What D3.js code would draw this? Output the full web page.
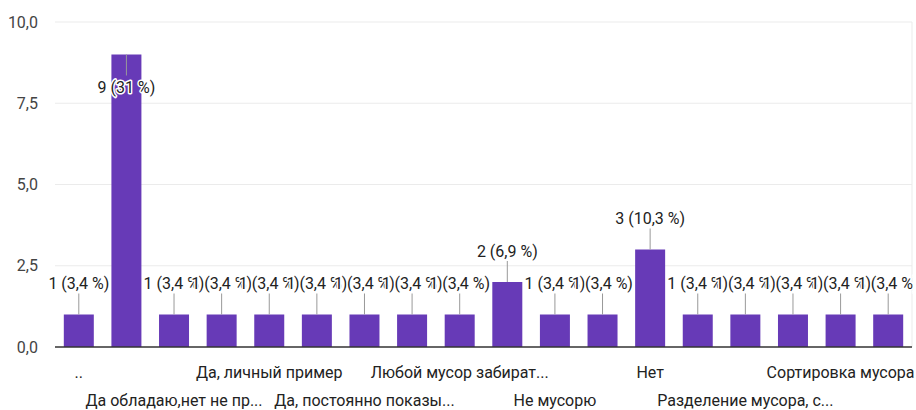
<!DOCTYPE html>
<html>
<head>
<meta charset="utf-8">
<script src="https://cdn.jsdelivr.net/npm/d3@7.9.0/dist/d3.min.js"></script>
<style>
  body { margin: 0; background: #fff; }
  svg { display: block; font-family: Roboto, "Noto Sans", sans-serif; }
</style>
</head>
<body>
<svg id="chart" width="916" height="410"></svg>
<script>
// answers (only every other one gets a visible axis label, like in the original)
const categories = [
  "..",
  "Да обладаю,нет не пр...",
  "Да обладаю,нет не пр...",
  "Да, личный пример",
  "Да, личный пример",
  "Да, постоянно показы...",
  "Да, постоянно показы...",
  "Любой мусор забират...",
  "Любой мусор забират...",
  "Не мусорю",
  "Не мусорю",
  "Нет",
  "Нет",
  "Разделение мусора, с...",
  "Разделение мусора, с...",
  "Сортировка мусора",
  "Сортировка мусора",
  "Сортировка мусора"
];
// labels that are actually shown under the axis (index -> text)
const shownLabels = [
  [0, ".."],
  [2, "Да обладаю,нет не пр..."],
  [4, "Да, личный пример"],
  [6, "Да, постоянно показы..."],
  [8, "Любой мусор забират..."],
  [10, "Не мусорю"],
  [12, "Нет"],
  [14, "Разделение мусора, с..."],
  [16, "Сортировка мусора"]
];
const counts = [1, 9, 1, 1, 1, 1, 1, 1, 1, 2, 1, 1, 3, 1, 1, 1, 1, 1];
const yTicks = [0, 2.5, 5, 7.5, 10];

const svg = d3.select("#chart");
const plotL = 55, plotR = 912, plotT = 22, plotB = 347;

const x = d3.scaleBand()
  .domain(d3.range(counts.length))
  .range([plotL, plotR])
  .paddingInner(0.37)
  .paddingOuter(0.185);

const y = d3.scaleLinear().domain([0, 10]).range([plotB, plotT]);

const total = d3.sum(counts);
const fmtNum = v => d3.format(".1f")(v).replace(/\.0$/, "").replace(".", ",");
const fmtTick = v => d3.format(".1f")(v).replace(".", ",");

// gridlines
svg.append("g")
  .selectAll("line")
  .data(yTicks.filter(d => d > 0))
  .join("line")
  .attr("x1", plotL).attr("x2", plotR)
  .attr("y1", d => y(d)).attr("y2", d => y(d))
  .attr("stroke", "#ebebeb");

// faint frame edge on the right
svg.append("line").attr("x1", plotR).attr("x2", plotR)
  .attr("y1", plotT).attr("y2", plotB).attr("stroke", "#ebebeb");

// y tick labels
svg.append("g")
  .selectAll("text")
  .data(yTicks)
  .join("text")
  .attr("x", 38)
  .attr("y", d => y(d))
  .attr("dy", "0.35em")
  .attr("text-anchor", "end")
  .attr("font-size", 16)
  .attr("fill", "#444")
  .text(fmtTick);

// bars
svg.append("g")
  .selectAll("rect")
  .data(counts)
  .join("rect")
  .attr("x", (d, i) => x(i))
  .attr("width", x.bandwidth())
  .attr("y", d => y(d))
  .attr("height", d => y(0) - y(d))
  .attr("fill", "#673ab7");

// baseline
svg.append("line")
  .attr("x1", plotL).attr("x2", plotR)
  .attr("y1", plotB).attr("y2", plotB)
  .attr("stroke", "#333").attr("stroke-width", 1.5);

// annotations with leader lines
svg.append("clipPath").attr("id", "clip")
  .append("rect").attr("x", 0).attr("y", 0).attr("width", 913).attr("height", 410);

const ann = svg.append("g").attr("clip-path", "url(#clip)");
counts.forEach((d, i) => {
  const cx = x(i) + x.bandwidth() / 2;
  const barTop = y(d);
  const inside = barTop - 40 < plotT;
  const stemEnd = inside ? barTop + 21 : barTop - 21;
  const textY = inside ? barTop + 33 : barTop - 31;
  ann.append("line")
    .attr("x1", cx).attr("x2", cx)
    .attr("y1", barTop).attr("y2", stemEnd)
    .attr("stroke", "#999");
  ann.append("text")
    .attr("x", cx)
    .attr("y", textY)
    .attr("dy", "0.35em")
    .attr("text-anchor", "middle")
    .attr("font-size", 16)
    .attr("fill", "#222")
    .attr("stroke", "#fff")
    .attr("stroke-width", 3)
    .attr("stroke-linejoin", "round")
    .attr("paint-order", "stroke")
    .text(`${d} (${fmtNum(d / total * 100)} %)`);
});

// category labels, staggered in two rows
svg.append("g")
  .selectAll("text")
  .data(shownLabels)
  .join("text")
  .attr("x", d => x(d[0]) + x.bandwidth() / 2)
  .attr("y", (d, k) => k % 2 === 0 ? 372 : 400)
  .attr("dy", "0.35em")
  .attr("text-anchor", "middle")
  .attr("font-size", 16)
  .attr("fill", "#222")
  .text(d => d[1]);
</script>
</body>
</html>
